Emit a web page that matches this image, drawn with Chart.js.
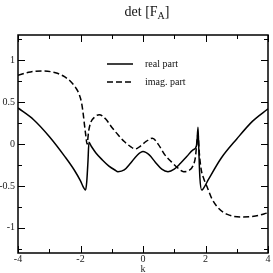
<!DOCTYPE html>
<html>
<head>
<meta charset="utf-8">
<script src="https://cdn.jsdelivr.net/npm/chart.js@4/dist/chart.umd.min.js"></script>
<style>
    html, body { margin: 0; padding: 0; background: #fff; }
    #wrap { width: 273px; height: 273px; }
</style>
</head>
<body>
<div id="wrap"><canvas id="chart" width="273" height="273"></canvas></div>
<script>
/* det [F_A] - parte real e imaginaria */

const realK = [-4, -3.5, -3.0, -2.5, -2.2, -2.0, -1.9, -1.84, -1.8, -1.76, -1.73, -1.65, -1.5, -1.3, -1.1, -0.9, -0.8, -0.6, -0.4, -0.2, 0,
    0.2, 0.4, 0.6, 0.8, 1.0, 1.2, 1.4, 1.6, 1.72, 1.76, 1.78, 1.82, 1.88, 1.95, 2.1, 2.5, 3.0, 3.5, 4.0];
const realV = [0.43, 0.29, 0.09, -0.15, -0.31, -0.44, -0.52, -0.55, -0.45, -0.2, 0.02, -0.03, -0.11, -0.19, -0.26, -0.31, -0.33, -0.31, -0.23, -0.14, -0.09,
    -0.13, -0.22, -0.3, -0.33, -0.3, -0.23, -0.15, -0.07, -0.01, 0.2, 0.0, -0.4, -0.55, -0.52, -0.42, -0.17, 0.06, 0.27, 0.42];

const imagK = [-4, -3.6, -3.2, -2.8, -2.5, -2.3, -2.15, -2.05, -1.97, -1.92, -1.87, -1.83, -1.79, -1.74, -1.68, -1.55, -1.4, -1.2, -1.0, -0.8, -0.6, -0.4, -0.25, -0.1,
    0.1, 0.3, 0.5, 0.7, 0.9, 1.1, 1.3, 1.45, 1.6, 1.68, 1.73, 1.76, 1.8, 1.86, 1.95, 2.05, 2.2, 2.4, 2.7, 3.2, 3.6, 4.0];
const imagV = [0.82, 0.86, 0.87, 0.85, 0.80, 0.74, 0.67, 0.6, 0.5, 0.38, 0.22, 0.1, 0.0, 0.15, 0.25, 0.32, 0.35, 0.3, 0.2, 0.11, 0.03, -0.03, -0.06, -0.03,
    0.03, 0.07, -0.01, -0.13, -0.21, -0.28, -0.33, -0.32, -0.26, -0.15, 0.05, 0.12, -0.1, -0.3, -0.42, -0.51, -0.65, -0.76, -0.84, -0.87, -0.86, -0.82];

const xTicks = [-4, -2, 0, 2, 4];
const xMinorTicks = [-3, -1, 1, 3];
const yTicks = [-1, -0.5, 0, 0.5, 1];
const yMinorTicks = [-1.25, -0.75, -0.25, 0.25, 0.75, 1.25];

const SERIF = '"Liberation Serif", "Times New Roman", serif';

const framePlugin = {
    id: 'frame',
    afterDraw(chart) {
        const { ctx, chartArea: area, scales } = chart;
        const xs = scales.x;
        const ys = scales.y;

        ctx.save();
        ctx.strokeStyle = '#000';
        ctx.lineWidth = 1.5;
        ctx.strokeRect(area.left, area.top, area.right - area.left, area.bottom - area.top);

        ctx.lineWidth = 1;
        ctx.beginPath();
        const tickX = (v, len) => {
            const px = Math.round(xs.getPixelForValue(v)) + 0.5;
            ctx.moveTo(px, area.bottom); ctx.lineTo(px, area.bottom - len);
            ctx.moveTo(px, area.top); ctx.lineTo(px, area.top + len);
        };
        const tickY = (v, len) => {
            const py = Math.round(ys.getPixelForValue(v)) + 0.5;
            ctx.moveTo(area.left, py); ctx.lineTo(area.left + len, py);
            ctx.moveTo(area.right, py); ctx.lineTo(area.right - len, py);
        };
        xTicks.forEach(v => tickX(v, 7));
        xMinorTicks.forEach(v => tickX(v, 4));
        yTicks.forEach(v => tickY(v, 7));
        yMinorTicks.forEach(v => tickY(v, 4));
        ctx.stroke();

        // legenda dentro do grafico
        const rows = [{ y: 64 }, { y: 82 }];
        ctx.font = '10px ' + SERIF;
        ctx.fillStyle = '#111';
        ctx.textBaseline = 'middle';
        chart.data.datasets.forEach((ds, i) => {
            ctx.beginPath();
            ctx.lineWidth = 1.5;
            ctx.setLineDash(ds.borderDash || []);
            ctx.moveTo(107, rows[i].y);
            ctx.lineTo(133, rows[i].y);
            ctx.stroke();
            ctx.setLineDash([]);
            ctx.fillText(ds.label, 145, rows[i].y);
        });

        // titulo com subscrito
        ctx.textBaseline = 'alphabetic';
        const big = '14px ' + SERIF;
        const small = '10px ' + SERIF;
        ctx.font = big;
        const w1 = ctx.measureText('det [F').width;
        const w3 = ctx.measureText(']').width;
        ctx.font = small;
        const w2 = ctx.measureText('A').width;
        let x = 147 - (w1 + w2 + w3) / 2;
        ctx.font = big;
        ctx.fillText('det [F', x, 16);
        x += w1;
        ctx.font = small;
        ctx.fillText('A', x, 19);
        x += w2;
        ctx.font = big;
        ctx.fillText(']', x, 16);
        ctx.restore();
    },
};

const ctx = document.getElementById('chart').getContext('2d');

new Chart(ctx, {
    type: 'line',
    data: {
        datasets: [{
            label: 'real part',
            data: realK.map((k, i) => ({ x: k, y: realV[i] })),
            borderColor: '#000',
            borderWidth: 1.5,
            pointRadius: 0,
            cubicInterpolationMode: 'monotone',
            fill: false,
        }, {
            label: 'imag. part',
            data: imagK.map((k, i) => ({ x: k, y: imagV[i] })),
            borderColor: '#000',
            borderWidth: 1.5,
            borderDash: [6, 3],
            pointRadius: 0,
            cubicInterpolationMode: 'monotone',
            fill: false,
        }],
    },
    options: {
        responsive: false,
        animation: false,
        layout: { padding: { top: 35, right: 5, left: 0, bottom: 0 } },
        plugins: {
            legend: { display: false },
            tooltip: { enabled: false },
            title: { display: false },
        },
        scales: {
            x: {
                type: 'linear',
                min: -4,
                max: 4,
                grid: { display: false, drawTicks: false },
                border: { display: false },
                afterBuildTicks: scale => { scale.ticks = xTicks.map(v => ({ value: v })); },
                afterFit: scale => { scale.height = 20; },
                ticks: {
                    color: '#222',
                    padding: 0,
                    maxRotation: 0,
                    font: { family: SERIF, size: 10 },
                    callback: v => String(v),
                },
                title: {
                    display: true,
                    text: 'k',
                    color: '#222',
                    padding: { top: 0, bottom: -1 },
                    font: { family: SERIF, size: 10, lineHeight: 1 },
                },
            },
            y: {
                min: -1.3,
                max: 1.3,
                grid: { display: false, drawTicks: false },
                border: { display: false },
                afterBuildTicks: scale => { scale.ticks = yTicks.map(v => ({ value: v })); },
                afterFit: scale => { scale.width = 18; },
                ticks: {
                    color: '#222',
                    padding: 3,
                    font: { family: SERIF, size: 10 },
                    callback: v => String(v),
                },
            },
        },
    },
    plugins: [framePlugin],
});
</script>
</body>
</html>
